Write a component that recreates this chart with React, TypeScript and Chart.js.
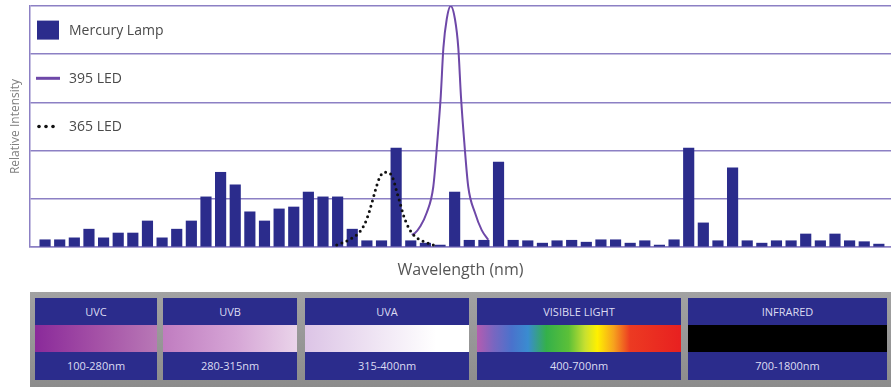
import React, { useEffect, useRef } from "react";
import { Chart, registerables } from "chart.js";

Chart.register(...registerables);

// ---- data ----
const mercuryLabel = "Mercury Lamp";
const mercuryValues = [
  0.15, 0.15, 0.19, 0.37, 0.19, 0.29, 0.29, 0.54, 0.19, 0.37, 0.54, 1.04, 1.55, 1.29, 0.73, 0.54, 0.79, 0.83,
  1.14, 1.04, 1.04, 0.37, 0.13, 0.13, 2.05, 0.13, 0.08, 0.04, 1.14, 0.14, 0.14, 1.76, 0.14, 0.13, 0.08, 0.13, 0.14, 0.1,
  0.15, 0.15, 0.08, 0.13, 0.04, 0.15, 2.05, 0.5, 0.13, 1.64, 0.13, 0.08, 0.13, 0.13, 0.27, 0.13, 0.27, 0.13, 0.11, 0.06,
];

const led395Label = "395 LED";
const led395X = [25.07, 25.29, 25.63, 26.09, 26.54, 26.81, 27.05, 27.23, 27.46, 27.73, 28.02, 28.25, 28.43, 28.66, 28.93, 29.39, 29.85, 30.3];
const led395Y = [0.25, 0.29, 0.42, 0.71, 1.25, 2.17, 3.13, 4.13, 4.73, 5.0, 4.73, 4.13, 3.13, 2.17, 1.25, 0.71, 0.35, 0.15];

const led365Label = "365 LED";
const led365X = [19.94, 20.51, 21.07, 21.53, 21.87, 22.17, 22.4, 22.62, 22.9, 23.19, 23.53, 23.81, 24.04, 24.27, 24.49, 24.76, 25.13, 25.63, 26.09, 26.54];
const led365Y = [0.04, 0.11, 0.2, 0.32, 0.49, 0.74, 0.98, 1.22, 1.46, 1.55, 1.54, 1.4, 1.15, 0.91, 0.67, 0.46, 0.27, 0.15, 0.09, 0.04];

const yAxisTitle = "Relative Intensity";
const xAxisTitle = "Wavelength (nm)";

const bandNames = ["UVC", "UVB", "UVA", "VISIBLE LIGHT", "INFRARED"];
const bandRanges = ["100-280nm", "280-315nm", "315-400nm", "400-700nm", "700-1800nm"];

// ---- styles ----
const BAR_COLOR = "#2b2c8c";
const GRID_COLOR = "#8c80c4";
const LED395_COLOR = "#6e48a8";
const FONT = "'Open Sans', 'Noto Sans', sans-serif";

const bandLayout = [
  { left: 35, width: 122, strip: "linear-gradient(to right, #8a2a9a 0%, #a450a6 50%, #b878b6 100%)" },
  { left: 163, width: 134, strip: "linear-gradient(to right, #c07cc0 0%, #d6a6d6 55%, #ead4ea 100%)" },
  { left: 305, width: 164, strip: "linear-gradient(to right, #dcc4e6 0%, #f0e6f4 45%, #ffffff 80%, #ffffff 100%)" },
  {
    left: 477,
    width: 204,
    strip:
      "linear-gradient(to right, #b45cb0 0%, #7a66c0 8%, #4a72cc 17%, #3a8cd0 25%, #34b04a 34%, #5cc038 45%, #c8e030 53%, #fff000 59%, #f6a21e 67%, #ec3a22 75%, #e82020 100%)",
  },
  { left: 688, width: 199, strip: "#000000" },
];

const rowLegend = {
  id: "rowLegend",
  afterDatasetsDraw(chart: any) {
    const { ctx, chartArea } = chart;
    const ys = chart.scales.y;
    const left = chartArea.left;
    ctx.save();
    chart.data.datasets.forEach((ds: any, i: number) => {
      const cy = ys.getPixelForValue(ys.max - 0.5 - i);
      if (ds.type === "bar") {
        ctx.fillStyle = ds.backgroundColor;
        ctx.fillRect(left + 7, cy - 9.5, 22, 19);
      } else if (ds.borderDash && ds.borderDash.length) {
        ctx.fillStyle = ds.borderColor;
        [9, 16, 23].forEach((dx) => {
          ctx.beginPath();
          ctx.arc(left + dx, cy, 1.8, 0, Math.PI * 2);
          ctx.fill();
        });
      } else {
        ctx.strokeStyle = ds.borderColor;
        ctx.lineWidth = 3;
        ctx.beginPath();
        ctx.moveTo(left + 6, cy);
        ctx.lineTo(left + 30, cy);
        ctx.stroke();
      }
      ctx.fillStyle = "#4a4a4a";
      ctx.font = `14px ${FONT}`;
      ctx.textBaseline = "middle";
      ctx.textAlign = "left";
      ctx.fillText(ds.label, left + 39, cy + 1);
    });
    ctx.restore();
  },
};

function SpectrumChart() {
  const ref = useRef<HTMLCanvasElement | null>(null);
  useEffect(() => {
    if (!ref.current) return;
    const chart = new Chart(ref.current, {
      type: "bar",
      data: {
        datasets: [
          {
            type: "bar",
            label: mercuryLabel,
            data: mercuryValues.map((v, i) => ({ x: i, y: v })),
            backgroundColor: BAR_COLOR,
            barThickness: 10.5,
            order: 3,
          } as any,
          {
            type: "line",
            label: led395Label,
            data: led395X.map((x, i) => ({ x, y: led395Y[i] })),
            borderColor: LED395_COLOR,
            borderWidth: 2,
            pointRadius: 0,
            cubicInterpolationMode: "monotone",
            fill: false,
            order: 2,
          } as any,
          {
            type: "line",
            label: led365Label,
            data: led365X.map((x, i) => ({ x, y: led365Y[i] })),
            borderColor: "#111111",
            borderWidth: 3,
            borderDash: [0, 5.5],
            borderCapStyle: "round",
            pointRadius: 0,
            cubicInterpolationMode: "monotone",
            fill: false,
            order: 1,
          } as any,
        ],
      },
      options: {
        animation: false,
        responsive: false,
        layout: { padding: { top: 6, left: 0, right: 0, bottom: 0 } },
        plugins: { legend: { display: false }, tooltip: { enabled: false } },
        scales: {
          x: {
            type: "linear",
            offset: false,
            min: -1.03,
            max: 57.83,
            ticks: { display: false },
            grid: { display: false, drawTicks: false, offset: false },
            border: { display: true, color: GRID_COLOR, width: 1.5 },
            title: {
              display: true,
              text: xAxisTitle,
              color: "#555555",
              font: { size: 16, family: FONT },
              padding: { top: 0, bottom: 10 },
            },
            afterFit: (s: any) => {
              s.height = 43;
            },
          },
          y: {
            min: 0,
            max: 5,
            ticks: { display: false, stepSize: 1 },
            grid: { color: GRID_COLOR, lineWidth: 1.5, drawTicks: false },
            border: { display: true, color: GRID_COLOR, width: 1.5 },
            title: {
              display: true,
              text: yAxisTitle,
              color: "#808080",
              font: { size: 12, family: FONT },
              padding: { top: 8, bottom: 0 },
            },
            afterFit: (s: any) => {
              s.width = 30;
            },
          },
        },
      },
      plugins: [rowLegend],
    } as any);
    return () => chart.destroy();
  }, []);
  return <canvas ref={ref} width={891} height={290} style={{ display: "block", width: 891, height: 290 }} />;
}

function SpectrumBands() {
  return (
    <div
      style={{
        position: "absolute",
        left: 30,
        top: 292,
        width: 861,
        height: 95,
        background: "linear-gradient(to bottom, #a2a2a2, #8c8c8c)",
      }}
    >
      {bandNames.map((name, i) => {
        const b = bandLayout[i];
        return (
          <div
            key={name}
            style={{
              position: "absolute",
              left: b.left - 30,
              top: 6,
              width: b.width,
              height: 82,
              background: BAR_COLOR,
              fontFamily: FONT,
              fontSize: 11,
              color: "#dcdcf2",
              textAlign: "center",
            }}
          >
            <div style={{ height: 27, lineHeight: "27px" }}>{name}</div>
            <div style={{ height: 27, background: b.strip }} />
            <div style={{ height: 28, lineHeight: "28px" }}>{bandRanges[i]}</div>
          </div>
        );
      })}
    </div>
  );
}

export default function App() {
  return (
    <div style={{ position: "absolute", left: 0, top: 0, width: 891, height: 387, background: "#ffffff", overflow: "hidden" }}>
      <SpectrumChart />
      <SpectrumBands />
    </div>
  );
}
